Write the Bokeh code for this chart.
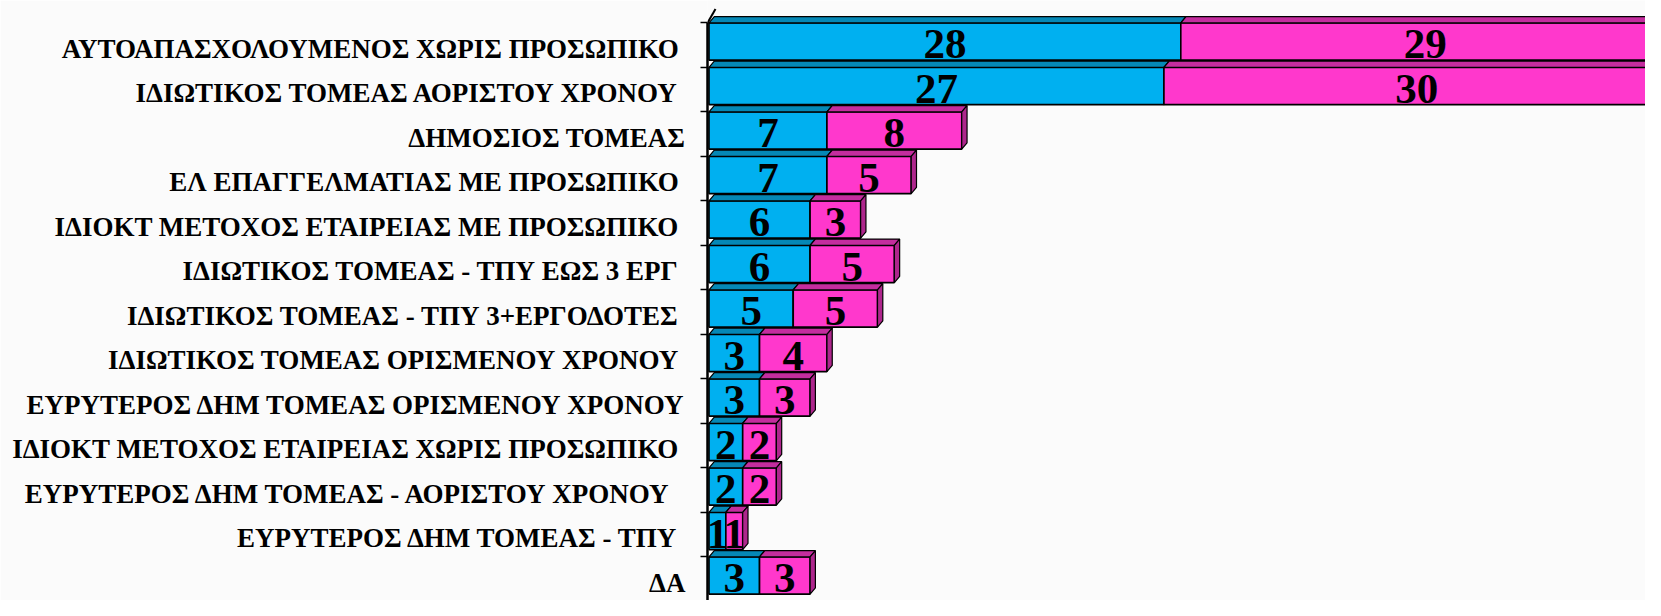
import numpy as np
from bokeh.plotting import figure
from bokeh.models import Range1d, FixedTicker, ColumnDataSource
from bokeh.core.properties import value
from bokeh.embed import file_html
from bokeh.resources import INLINE

# ---- data ----
categories = [
    "ΑΥΤΟΑΠΑΣΧΟΛΟΥΜΕΝΟΣ  ΧΩΡΙΣ ΠΡΟΣΩΠΙΚΟ",
    "ΙΔΙΩΤΙΚΟΣ  ΤΟΜΕΑΣ ΑΟΡΙΣΤΟΥ ΧΡΟΝΟΥ",
    "ΔΗΜΟΣΙΟΣ ΤΟΜΕΑΣ",
    "ΕΛ ΕΠΑΓΓΕΛΜΑΤΙΑΣ  ΜΕ ΠΡΟΣΩΠΙΚΟ",
    "ΙΔΙΟΚΤ  ΜΕΤΟΧΟΣ ΕΤΑΙΡΕΙΑΣ ΜΕ ΠΡΟΣΩΠΙΚΟ",
    "ΙΔΙΩΤΙΚΟΣ  ΤΟΜΕΑΣ - ΤΠΥ ΕΩΣ 3 ΕΡΓ",
    "ΙΔΙΩΤΙΚΟΣ  ΤΟΜΕΑΣ - ΤΠΥ 3+ΕΡΓΟΔΟΤΕΣ",
    "ΙΔΙΩΤΙΚΟΣ  ΤΟΜΕΑΣ ΟΡΙΣΜΕΝΟΥ ΧΡΟΝΟΥ",
    "ΕΥΡΥΤΕΡΟΣ ΔΗΜ ΤΟΜΕΑΣ ΟΡΙΣΜΕΝΟΥ ΧΡΟΝΟΥ",
    "ΙΔΙΟΚΤ  ΜΕΤΟΧΟΣ ΕΤΑΙΡΕΙΑΣ ΧΩΡΙΣ ΠΡΟΣΩΠΙΚΟ",
    "ΕΥΡΥΤΕΡΟΣ ΔΗΜ ΤΟΜΕΑΣ  - ΑΟΡΙΣΤΟΥ  ΧΡΟΝΟΥ",
    "ΕΥΡΥΤΕΡΟΣ ΔΗΜ ΤΟΜΕΑΣ  - ΤΠΥ",
    "ΔΑ",
]
series_cyan = [28, 27, 7, 7, 6, 6, 5, 3, 3, 2, 2, 1, 3]
series_magenta = [29, 30, 8, 5, 3, 5, 5, 4, 3, 2, 2, 1, 3]

# ---- geometry / style ----
W, H = 1645, 600
AXIS_X = 707          # px, axis line
BAR0_X = 708.5        # px, value 0
PX_X = 16.85          # px per value unit
PX_Y = 44.5           # px per row
ROW0_Y = 41.0         # px, centre of first bar front
HALF = 18.6 / PX_Y    # half height of bar front (rows)
DX = 5.3 / PX_X       # 3D depth, x
DY = 6.3 / PX_Y       # 3D depth, y (up)

CYAN, CYAN_TOP, CYAN_SIDE = "#00B0F0", "#0588B6", "#0477A3"
MAG, MAG_TOP, MAG_SIDE = "#FF38CC", "#C42D9E", "#AE268C"
BG = "#fbfbfb"

n = len(categories)
ys = np.arange(n, dtype=float)
a = np.array(series_cyan, dtype=float)
b = np.array(series_magenta, dtype=float)

x0_data = (AXIS_X - BAR0_X) / PX_X
p = figure(width=W, height=H, output_backend="svg", toolbar_location=None,
           x_axis_location=None, y_axis_location="left",
           x_range=Range1d(x0_data, (W - BAR0_X) / PX_X),
           y_range=Range1d((H - ROW0_Y) / PX_Y, (0 - ROW0_Y) / PX_Y),
           min_border_left=AXIS_X, min_border_right=0, min_border_top=0, min_border_bottom=0)
p.background_fill_color = BG
p.border_fill_color = BG
p.outline_line_color = None
p.grid.visible = False


def draw(x0, x1, front, top, side):
    yt = ys - HALF
    yb = ys + HALF
    p.quad(left=x0, right=x1, top=yt, bottom=yb, fill_color=front,
           line_color="black", line_width=1.6)
    txs = [[l, r, r + DX, l + DX] for l, r in zip(x0, x1)]
    tys = [[t, t, t - DY, t - DY] for t in yt]
    p.patches(txs, tys, fill_color=top, line_color="black", line_width=1.2)
    sxs = [[r, r + DX, r + DX, r] for r in x1]
    sys_ = [[t, t - DY, bb - DY, bb] for t, bb in zip(yt, yb)]
    p.patches(sxs, sys_, fill_color=side, line_color="black", line_width=1.2)


draw(np.zeros(n), a, CYAN, CYAN_TOP, CYAN_SIDE)
draw(a, a + b, MAG, MAG_TOP, MAG_SIDE)

# value labels
mid = ys + 2.5 / PX_Y
lab = ColumnDataSource(dict(
    x=np.concatenate([a / 2, a + b / 2]),
    y=np.concatenate([mid, mid]),
    t=[str(v) for v in series_cyan] + [str(v) for v in series_magenta],
))
p.text(x="x", y="y", text="t", source=lab, text_align="center",
       text_baseline="middle", text_font=value("Liberation Serif"),
       text_font_style="bold", text_font_size="43px", text_color="black")

# 3D wall corner at top of axis
p.segment(x0=[x0_data], y0=[-HALF], x1=[x0_data + 8 / PX_X],
          y1=[-HALF - 14 / PX_Y], line_color="black", line_width=2)

# y axis with category labels
ax = p.yaxis[0]
label_pos = list(ys + 7.0 / PX_Y)
ax.ticker = FixedTicker(ticks=label_pos, minor_ticks=list(ys - HALF))
ax.major_label_overrides = {float(v): c for v, c in zip(label_pos, categories)}
ax.major_label_text_font = "Liberation Serif"
ax.major_label_text_font_style = "bold"
ax.major_label_text_font_size = "27px"
ax.major_label_text_color = "black"
ax.major_label_standoff = 15
ax.major_tick_line_color = None
ax.major_tick_out = 0
ax.major_tick_in = 0
ax.minor_tick_out = 7
ax.minor_tick_in = 0
ax.minor_tick_line_color = "black"
ax.minor_tick_line_width = 1.5
ax.axis_line_color = "black"
ax.axis_line_width = 2.5
ax.bounds = (-HALF, (H - ROW0_Y) / PX_Y)

open("out.html", "w").write(file_html(p, INLINE))
